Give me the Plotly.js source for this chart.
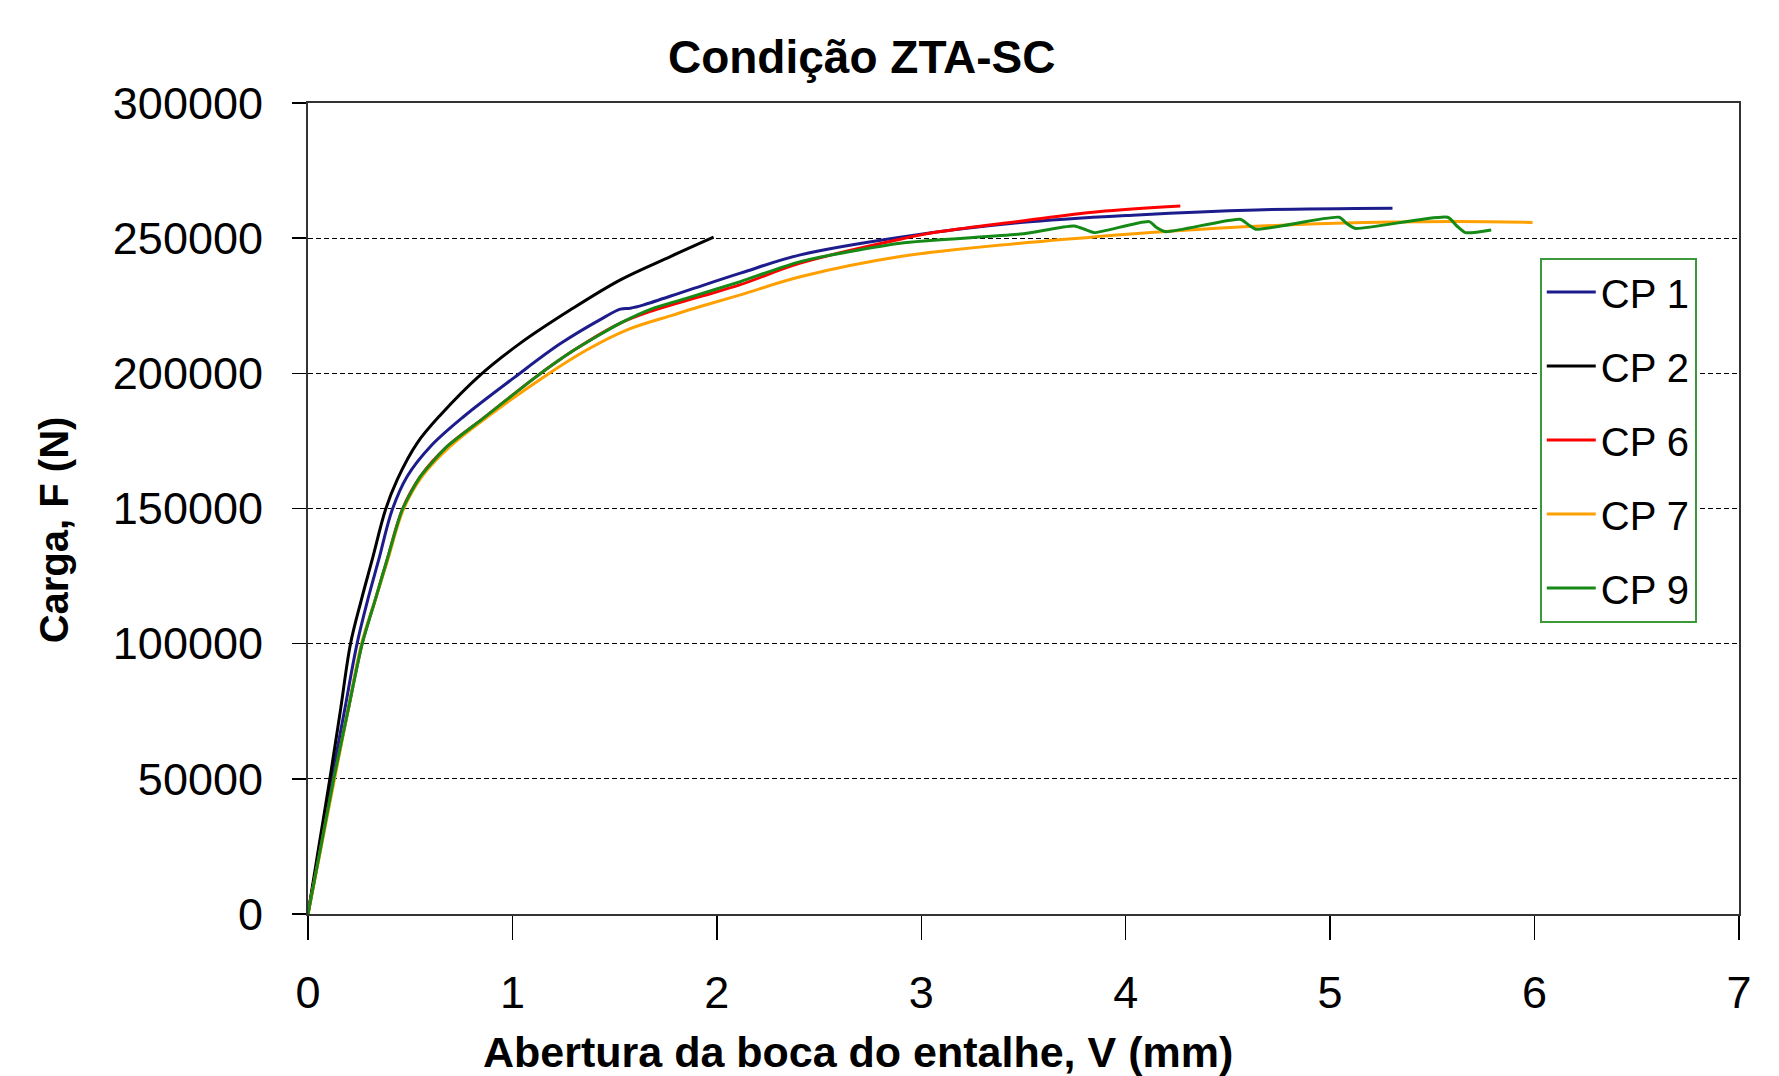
<!DOCTYPE html>
<html>
<head>
<meta charset="utf-8">
<script src="https://cdn.plot.ly/plotly-3.0.1.min.js"></script>
<style>html,body{margin:0;padding:0;background:#fff;}#chart{width:1779px;height:1076px;}</style>
</head>
<body>
<div id="chart"></div>
<script>
// Series names
const seriesNames = ["CP 1", "CP 2", "CP 6", "CP 7", "CP 9"];
const seriesColors = ["#1c1c8c", "#000000", "#ff0000", "#ffa000", "#168a16"];

// CP 1
const cp1X = [0, 0.058, 0.116, 0.178, 0.24, 0.295, 0.346, 0.412, 0.485, 0.599, 0.762, 1.01, 1.235, 1.4425, 1.528, 1.577, 1.642, 1.854, 2.115, 2.408, 2.897, 3.484, 4.057, 4.638, 5.305];
const cp1Y = [0, 25000, 50000, 75000, 100000, 117000, 131050, 149550, 161860, 172950, 184030, 198500, 211000, 220420, 223740, 224110, 225340, 230600, 237050, 243820, 250360, 255760, 258600, 260440, 261060];

// CP 2
const cp2X = [0, 0.053, 0.107, 0.158, 0.208, 0.262, 0.314, 0.379, 0.436, 0.534, 0.648, 0.8435, 1.039, 1.284, 1.528, 1.773, 1.984];
const cp2Y = [0, 25000, 50000, 75000, 100000, 116500, 131050, 149550, 160630, 174200, 184600, 199450, 211170, 223490, 234580, 243200, 250360];

// CP 6
const cp6X = [0, 0.063, 0.126, 0.195, 0.265, 0.33, 0.387, 0.461, 0.55, 0.681, 0.86, 1.112, 1.3, 1.528, 1.691, 1.919, 2.115, 2.408, 2.897, 3.093, 3.484, 3.864, 4.267];
const cp6Y = [0, 25000, 50000, 75000, 100000, 116500, 131050, 149550, 161860, 172950, 183500, 198500, 208500, 218570, 223300, 228400, 232800, 240750, 249620, 252430, 256300, 259800, 261920];

// CP 7
const cp7X = [0, 0.065, 0.13, 0.195, 0.262, 0.33, 0.39, 0.466, 0.558, 0.695, 0.88, 1.15, 1.365, 1.561, 1.789, 1.919, 2.115, 2.408, 2.897, 3.484, 3.864, 4.444, 5.025, 5.605, 5.99];
const cp7Y = [0, 25000, 50000, 75000, 100000, 116500, 131050, 149550, 161860, 172950, 184030, 198500, 208700, 216090, 221630, 224700, 229030, 235700, 243190, 248140, 250580, 253650, 255500, 256130, 255800];

// CP 9
const cp9X = [0, 0.063, 0.126, 0.195, 0.265, 0.33, 0.387, 0.461, 0.55, 0.681, 0.86, 1.112, 1.3, 1.528, 1.691, 1.854, 2.115, 2.408, 2.897, 3.484, 3.748, 3.806, 3.845, 4.115, 4.15, 4.193, 4.56, 4.6, 4.638, 5.044, 5.08, 5.121, 5.575, 5.62, 5.662, 5.788];
const cp9Y = [0, 25000, 50000, 75000, 100000, 116500, 131050, 149550, 161860, 172950, 183500, 198500, 208500, 218570, 224110, 227810, 233950, 241340, 248140, 251500, 254500, 253050, 252050, 256130, 254000, 252430, 257000, 255000, 253300, 257740, 255500, 253650, 257740, 254500, 252050, 253050];

// Axis ticks
const xTicks = [0, 1, 2, 3, 4, 5, 6, 7];
const yTicks = [0, 50000, 100000, 150000, 200000, 250000, 300000];

const titleText = "Condição ZTA-SC";
const xTitleText = "Abertura da boca do entalhe, V (mm)";
const yTitleText = "Carga, F (N)";

const xs = [cp1X, cp2X, cp6X, cp7X, cp9X];
const ys = [cp1Y, cp2Y, cp6Y, cp7Y, cp9Y];
const smooth = [1.0, 1.0, 1.0, 1.0, 0.6];

const FONT = "Liberation Sans, Arial, sans-serif";

const traces = seriesNames.map((name, i) => ({
  type: "scatter",
  mode: "lines",
  name: name,
  x: xs[i],
  y: ys[i],
  legendgroup: "g" + i,
  line: {color: seriesColors[i], width: 3, shape: "spline", smoothing: smooth[i]},
  hoverinfo: "skip"
}));

const layout = {
  width: 1779,
  height: 1076,
  paper_bgcolor: "#ffffff",
  plot_bgcolor: "#ffffff",
  margin: {l: 307.5, r: 40, t: 103, b: 161.5, pad: 0},
  font: {family: FONT, color: "#000000"},
  title: {
    text: "<b>" + titleText + "</b>",
    font: {family: FONT, size: 46, color: "#000000"},
    x: 0.4844, xref: "container", xanchor: "center",
    y: 1 - 57 / 1076, yref: "container", yanchor: "middle"
  },
  xaxis: {
    range: [0, 7],
    tickvals: xTicks,
    ticktext: xTicks.map(String),
    ticks: "outside",
    ticklen: 24,
    tickwidth: 1.5,
    tickcolor: "#000000",
    ticklabelstandoff: 14,
    tickfont: {family: FONT, size: 45, color: "#000000"},
    showline: true,
    linecolor: "#333333",
    linewidth: 2,
    mirror: true,
    showgrid: false,
    zeroline: false,
    fixedrange: true
  },
  yaxis: {
    range: [0, 300000],
    tickvals: yTicks,
    ticktext: yTicks.map(String),
    ticks: "outside",
    ticklen: 14,
    tickwidth: 1.5,
    tickcolor: "#000000",
    ticklabelstandoff: 20,
    tickfont: {family: FONT, size: 45, color: "#000000"},
    showline: true,
    linecolor: "#333333",
    linewidth: 2,
    mirror: true,
    showgrid: true,
    gridcolor: "#000000",
    gridwidth: 1,
    griddash: "5px,3px",
    zeroline: false,
    fixedrange: true
  },
  showlegend: true,
  legend: {
    x: (1539.7 - 307.5) / 1431.5,
    y: (914.5 - 257.6) / 811.5,
    xanchor: "left",
    yanchor: "top",
    bgcolor: "#ffffff",
    bordercolor: "#3a9a3a",
    borderwidth: 2,
    font: {family: FONT, size: 40, color: "#000000"},
    tracegroupgap: 19,
    itemwidth: 49,
    traceorder: "grouped"
  },
  annotations: [
    {
      text: "<b>" + xTitleText + "</b>",
      xref: "paper", yref: "paper",
      x: (857.7 - 307.5) / 1431.5,
      y: (914.5 - 1053) / 811.5,
      xanchor: "center", yanchor: "middle",
      showarrow: false,
      font: {family: FONT, size: 43, color: "#000000"}
    },
    {
      text: "<b>" + yTitleText + "</b>",
      xref: "paper", yref: "paper",
      x: (53 - 307.5) / 1431.5,
      y: (914.5 - 530) / 811.5,
      xanchor: "center", yanchor: "middle",
      textangle: -90,
      showarrow: false,
      font: {family: FONT, size: 40, color: "#000000"}
    }
  ]
};

Plotly.newPlot("chart", traces, layout, {staticPlot: true, displayModeBar: false});
</script>
</body>
</html>
